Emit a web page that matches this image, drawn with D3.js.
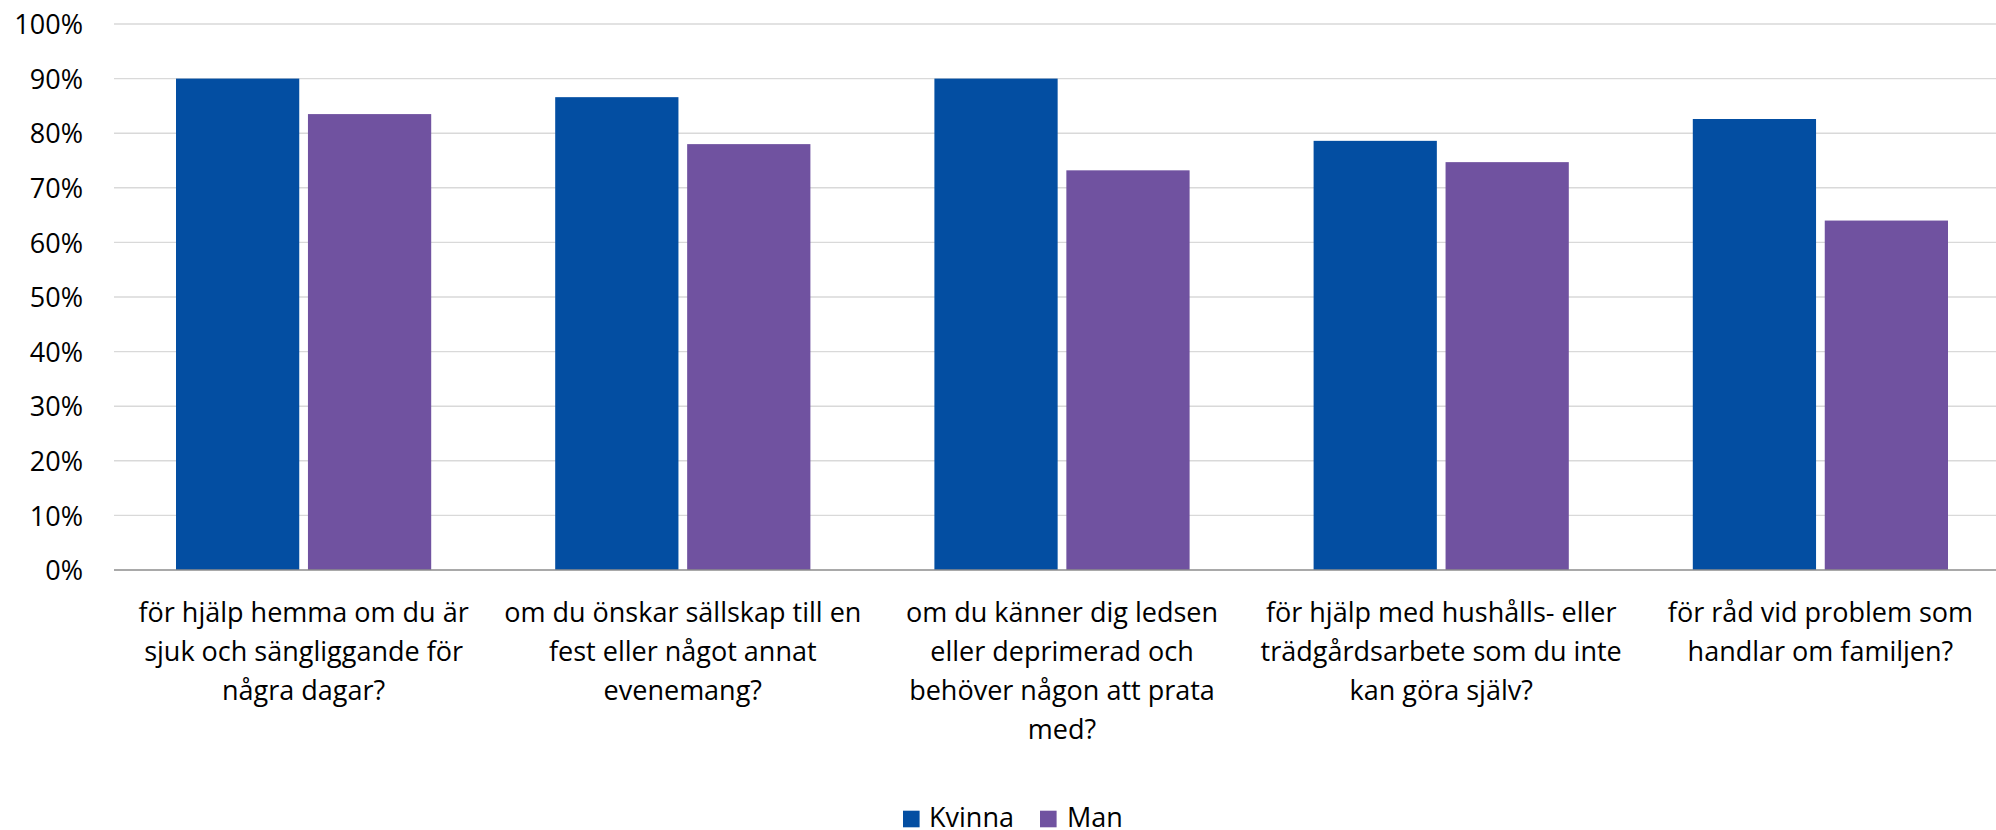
<!DOCTYPE html>
<html>
<head>
<meta charset="utf-8">
<script src="https://cdn.jsdelivr.net/npm/d3@7"></script>
<style>
  html, body { margin: 0; padding: 0; background: #fff; }
  svg { display: block; }
  text { font-family: "Open Sans", sans-serif; fill: #000; }
</style>
</head>
<body>
<div id="chart"></div>
<script>
// ---- data ----
const categories = [
  "för hjälp hemma om du är sjuk och sängliggande för några dagar?",
  "om du önskar sällskap till en fest eller något annat evenemang?",
  "om du känner dig ledsen eller deprimerad och behöver någon att prata med?",
  "för hjälp med hushålls- eller trädgårdsarbete som du inte kan göra själv?",
  "för råd vid problem som handlar om familjen?"
];
const categoryLines = [
  ["för hjälp hemma om du är", "sjuk och sängliggande för", "några dagar?"],
  ["om du önskar sällskap till en", "fest eller något annat", "evenemang?"],
  ["om du känner dig ledsen", "eller deprimerad och", "behöver någon att prata", "med?"],
  ["för hjälp med hushålls- eller", "trädgårdsarbete som du inte", "kan göra själv?"],
  ["för råd vid problem som", "handlar om familjen?"]
];
const seriesNames = ["Kvinna", "Man"];
const kvinna = [0.900, 0.866, 0.900, 0.786, 0.826];
const man    = [0.835, 0.780, 0.732, 0.747, 0.640];
const yTicks = [0, 0.1, 0.2, 0.3, 0.4, 0.5, 0.6, 0.7, 0.8, 0.9, 1.0];
const colors = ["#034ea2", "#7052a0"];

// ---- layout ----
const W = 1996, H = 830;
const plotLeft = 114, plotRight = 2010, plotTop = 24, plotBottom = 570;
const fontSize = 27;

const svg = d3.select("#chart").append("svg")
  .attr("width", W).attr("height", H);

const x0 = d3.scaleBand().domain(categories)
  .range([plotLeft, plotRight]).paddingInner(0.327).paddingOuter(0.1635);
const x1 = d3.scaleBand().domain(seriesNames)
  .range([0, x0.bandwidth()]).paddingInner(0.066);
const y = d3.scaleLinear().domain([0, 1]).range([plotBottom, plotTop]);
const color = d3.scaleOrdinal().domain(seriesNames).range(colors);

// gridlines
svg.append("g").selectAll("line")
  .data(yTicks.filter(t => t > 0))
  .join("line")
  .attr("x1", plotLeft).attr("x2", plotRight)
  .attr("y1", d => y(d)).attr("y2", d => y(d))
  .attr("stroke", "#d9d9d9").attr("stroke-width", 1.4);

// y axis labels
const yAxis = d3.axisLeft(y).tickValues(yTicks).tickFormat(d3.format(".0%"))
  .tickSize(0).tickPadding(31);
const gy = svg.append("g").attr("transform", `translate(${plotLeft},0)`).call(yAxis);
gy.select(".domain").remove();
gy.selectAll("text")
  .attr("font-size", fontSize)
  .attr("font-family", "'Open Sans', sans-serif")
  .attr("fill", "#000")
  .attr("dy", "0.36em");

// bars
const rows = categories.map((c, i) => ({ cat: c, vals: [kvinna[i], man[i]] }));
svg.append("g").selectAll("g")
  .data(rows)
  .join("g")
  .attr("transform", d => `translate(${x0(d.cat)},0)`)
  .selectAll("rect")
  .data(d => d.vals.map((v, j) => ({ s: seriesNames[j], v })))
  .join("rect")
  .attr("x", d => x1(d.s))
  .attr("width", x1.bandwidth())
  .attr("y", d => y(d.v))
  .attr("height", d => y(0) - y(d.v))
  .attr("fill", d => color(d.s));

// baseline
svg.append("line")
  .attr("x1", plotLeft).attr("x2", plotRight)
  .attr("y1", y(0)).attr("y2", y(0))
  .attr("stroke", "#8c8c8c").attr("stroke-width", 1.5);

// category labels
const xAxis = d3.axisBottom(x0).tickSize(0).tickFormat("");
const gx = svg.append("g").attr("transform", `translate(0,${plotBottom})`).call(xAxis);
gx.select(".domain").remove();
gx.selectAll(".tick").each(function(d, i) {
  const t = d3.select(this).append("text")
    .attr("text-anchor", "middle")
    .attr("font-size", fontSize)
    .attr("fill", "#000")
    .attr("y", 621.7 - plotBottom);
  categoryLines[i].forEach((line, k) => {
    t.append("tspan").attr("x", 0).attr("dy", k === 0 ? 0 : 39).text(line);
  });
});

// legend
const legendItems = [
  { name: seriesNames[0], sx: 903, tx: 929 },
  { name: seriesNames[1], sx: 1040, tx: 1067 }
];
const lg = svg.append("g");
legendItems.forEach(it => {
  lg.append("rect").attr("x", it.sx).attr("y", 810.7).attr("width", 16.6).attr("height", 16.6)
    .attr("fill", color(it.name));
  lg.append("text").attr("x", it.tx).attr("y", 827).attr("font-size", fontSize)
    .text(it.name);
});
</script>
</body>
</html>
